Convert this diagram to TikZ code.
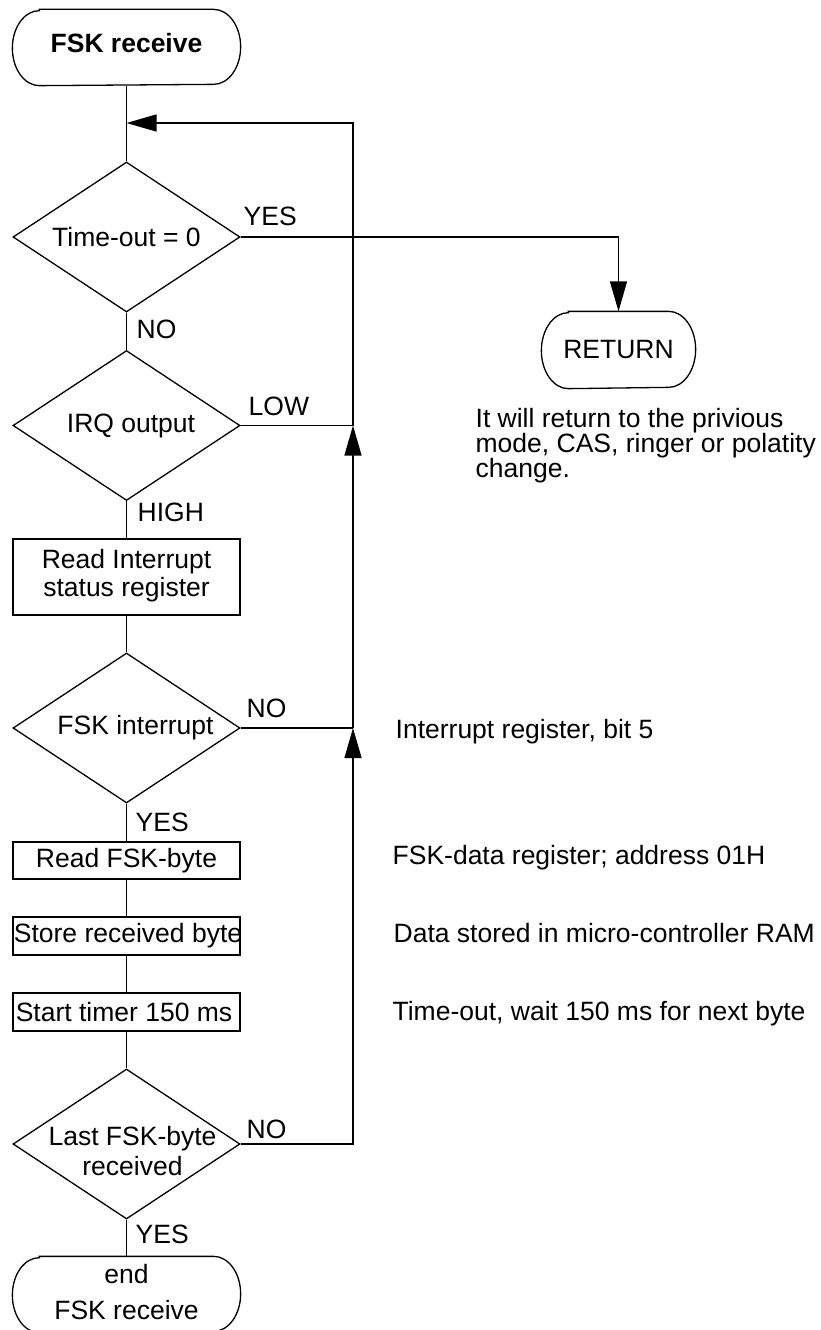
\documentclass[tikz,border=0pt]{standalone}
\usepackage{fontspec}
\setmainfont{Liberation Sans}
\usetikzlibrary{shapes.geometric, arrows.meta}

% capsule outline (start / end terminals) drawn round a rectangular node
\newcommand{\termframe}[1]{%
  \draw ([xshift=27pt]#1.north west) -- ([xshift=-27pt]#1.north east)
    arc[start angle=90, end angle=-90, x radius=27pt, y radius=37.5pt]
    -- ([xshift=27pt]#1.south west)
    arc[start angle=270, end angle=90, x radius=27pt, y radius=37.5pt]
    -- cycle;}

\begin{document}
\begin{tikzpicture}[x=1pt, y=-1pt, line width=1.3pt,
  every node/.style={font=\fontsize{26.5}{25}\selectfont, inner sep=0pt},
  decision/.style={draw, diamond, minimum width=227pt, minimum height=150pt},
  proc/.style={draw, rectangle, minimum width=227pt},
  term/.style={rectangle, minimum width=227pt, minimum height=75pt},
  tag/.style={anchor=base west},
  note/.style={anchor=base west, align=left},
  flow/.style={-{Triangle[length=30pt, width=17pt]}},
]
\useasboundingbox (0,0) rectangle (820,1330);
\clip (0,0) rectangle (820,1330);

% main column
\node[term] (start) at (126.5,47.5)
  {\raisebox{4pt}[\height][\depth]{\bfseries FSK receive}};
\node[decision] (d1) at (126.5,237) {\makebox[0pt]{Time-out = 0}};
\node[decision] (d2) at (126.5,425.5) {\makebox[0pt]{\hspace*{9pt}IRQ output}};
\node[proc, minimum height=76pt] (b1) at (126.5,577)
  {\fontsize{26.5}{27}\selectfont\begin{tabular}{@{}c@{}}Read Interrupt\\status register\end{tabular}};
\node[decision] (d3) at (126.5,728) {\makebox[0pt]{\hspace*{18pt}FSK interrupt}};
\node[proc, minimum height=37pt] (b2) at (126.5,860.5) {Read FSK-byte};
\node[proc, minimum height=38pt] (b3) at (126.5,936) {\makebox[0pt]{\hspace*{3pt}Store received byte}};
\node[proc, minimum height=38pt] (b4) at (126.5,1012) {\makebox[0pt]{\hspace*{-5pt}Start timer 150 ms}};
\node[decision] (d4) at (126.5,1144)
  {\makebox[0pt]{\hspace*{12pt}\raisebox{-10pt}[\height][\depth]{\fontsize{26.5}{30}\selectfont\begin{tabular}{@{}c@{}}Last FSK-byte\\received\end{tabular}}}};
\node[term] (fin) at (126.5,1294.5)
  {\fontsize{26.5}{36}\selectfont\begin{tabular}{@{}c@{}}end\\FSK receive\end{tabular}};

\node[term, minimum width=153pt, minimum height=76pt] (ret) at (618.5,350) {RETURN};

\termframe{start}
\termframe{fin}
\draw ([xshift=27pt]ret.north west) -- ([xshift=-27pt]ret.north east)
    arc[start angle=90, end angle=-90, x radius=27pt, y radius=38pt]
    -- ([xshift=27pt]ret.south west)
    arc[start angle=270, end angle=90, x radius=27pt, y radius=38pt]
    -- cycle;

% loop-back column
\coordinate (j1) at (353,123);
\coordinate (m1) at (start.south |- j1);
\coordinate (j2) at (d2.east -| j1);
\coordinate (j3) at (d3.east -| j1);
\coordinate (j4) at (d4.east -| j1);

% branch labels
\node[tag] (l1) at (243,225) {YES};
\node[tag] (l2) at (136,338) {NO};
\node[tag] (l3) at (248,415) {LOW};
\node[tag] (l4) at (137,521) {HIGH};
\node[tag] (l5) at (246,717) {NO};
\node[tag] (l6) at (135,831) {YES};
\node[tag] (l7) at (246,1138) {NO};
\node[tag] (l8) at (135,1243) {YES};

% remarks (base anchor of a multi-line node sits on its last line)
\node[note] (n1) at (475,477) {It will return to the privious\\mode, CAS, ringer or polatity\\change.};
\node[note] (n2) at (395,738) {Interrupt register, bit 5};
\node[note] (n3) at (392,864) {FSK-data register; address 01H};
\node[note] (n4) at (393,942) {Data stored in micro-controller RAM};
\node[note] (n5) at (392,1020) {Time-out, wait 150 ms for next byte};

% connectors
\draw (start) -- (d1);
\draw (d1) -- (d2);
\draw (d2) -- (b1);
\draw (b1) -- (d3);
\draw (d3) -- (b2);
\draw (b2) -- (b3);
\draw (b3) -- (b4);
\draw (b4) -- (d4);
\draw (d4) -- (fin);
\draw[flow] (d1.east) -| (ret.north);
\draw (d2.east) -- (j2);
\draw (d3.east) -- (j3);
\draw[flow] (j2) -- (j1) -- (m1);
\draw[flow] (j3) -- (j2);
\draw[flow] (d4.east) -- (j4) -- (j3);
\end{tikzpicture}
\end{document}
